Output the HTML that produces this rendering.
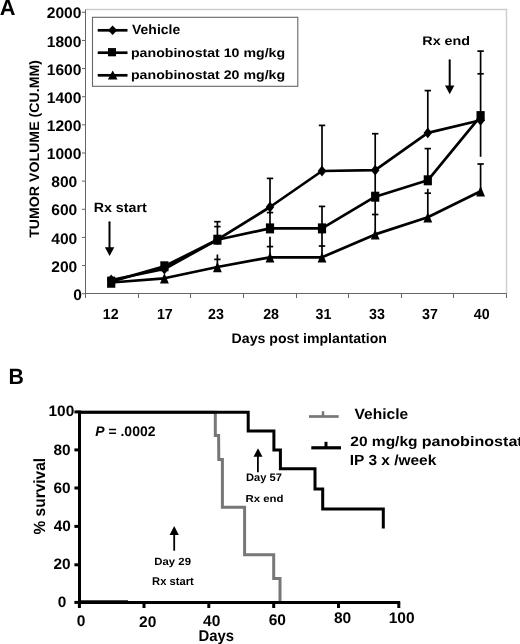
<!DOCTYPE html>
<html><head><meta charset="utf-8">
<style>
html,body{margin:0;padding:0;background:#fff;}
body{width:520px;height:644px;overflow:hidden;}
svg{display:block;filter:grayscale(1) blur(0.3px);}
text{font-family:"Liberation Sans",sans-serif;font-weight:bold;fill:#000;text-rendering:geometricPrecision;}
</style></head>
<body>
<svg width="520" height="644" viewBox="0 0 520 644">
<rect x="0" y="0" width="520" height="644" fill="#fff"/>
<text x="-0.34" y="14.6" font-size="21.79">A</text>
<path d="M85.5 9.5 H506.5 V293.5" fill="none" stroke="#cdcdcd" stroke-width="1.4"/>
<path d="M85.5 9.5 V293.5 H506.5" fill="none" stroke="#666" stroke-width="1"/>
<path d="M82 293.7 H85.5" stroke="#666" stroke-width="1"/>
<text transform="translate(73.26,299.78) scale(1.0200,1)" font-size="15.300">0</text>
<path d="M82 265.56 H85.5" stroke="#666" stroke-width="1"/>
<text transform="translate(51.26,271.64) scale(1.0200,1)" font-size="15.300">200</text>
<path d="M82 237.42 H85.5" stroke="#666" stroke-width="1"/>
<text transform="translate(51.26,243.5) scale(1.0200,1)" font-size="15.300">400</text>
<path d="M82 209.29 H85.5" stroke="#666" stroke-width="1"/>
<text transform="translate(51.26,215.36) scale(1.0200,1)" font-size="15.300">600</text>
<path d="M82 181.15 H85.5" stroke="#666" stroke-width="1"/>
<text transform="translate(51.26,187.23) scale(1.0200,1)" font-size="15.300">800</text>
<path d="M82 153.01 H85.5" stroke="#666" stroke-width="1"/>
<text transform="translate(46.7,159.09) scale(1.0200,1)" font-size="15.300">1000</text>
<path d="M82 124.87 H85.5" stroke="#666" stroke-width="1"/>
<text transform="translate(46.7,130.95) scale(1.0200,1)" font-size="15.300">1200</text>
<path d="M82 96.73 H85.5" stroke="#666" stroke-width="1"/>
<text transform="translate(46.7,102.81) scale(1.0200,1)" font-size="15.300">1400</text>
<path d="M82 68.6 H85.5" stroke="#666" stroke-width="1"/>
<text transform="translate(46.7,74.67) scale(1.0200,1)" font-size="15.300">1600</text>
<path d="M82 40.46 H85.5" stroke="#666" stroke-width="1"/>
<text transform="translate(46.7,46.54) scale(1.0200,1)" font-size="15.300">1800</text>
<path d="M82 12.32 H85.5" stroke="#666" stroke-width="1"/>
<text transform="translate(46.7,18.4) scale(1.0200,1)" font-size="15.300">2000</text>
<path d="M85.5 293.5 V298" stroke="#666" stroke-width="1"/>
<path d="M138.5 293.5 V298" stroke="#666" stroke-width="1"/>
<path d="M190.5 293.5 V298" stroke="#666" stroke-width="1"/>
<path d="M243.5 293.5 V298" stroke="#666" stroke-width="1"/>
<path d="M296.5 293.5 V298" stroke="#666" stroke-width="1"/>
<path d="M348.5 293.5 V298" stroke="#666" stroke-width="1"/>
<path d="M401.5 293.5 V298" stroke="#666" stroke-width="1"/>
<path d="M453.5 293.5 V298" stroke="#666" stroke-width="1"/>
<path d="M506.5 293.5 V298" stroke="#666" stroke-width="1"/>
<text transform="translate(102.86,318.85) scale(0.9700,1)" font-size="14.700">12</text>
<text transform="translate(156.91,318.77) scale(0.9700,1)" font-size="14.700">17</text>
<text transform="translate(208.09,318.77) scale(0.9700,1)" font-size="14.700">23</text>
<text transform="translate(263.15,318.77) scale(0.9700,1)" font-size="14.700">28</text>
<text transform="translate(315.59,318.77) scale(0.9700,1)" font-size="14.700">31</text>
<text transform="translate(369.06,318.77) scale(0.9700,1)" font-size="14.700">33</text>
<text transform="translate(422.09,318.77) scale(0.9700,1)" font-size="14.700">37</text>
<text transform="translate(473.86,318.77) scale(0.9700,1)" font-size="14.700">40</text>
<text transform="translate(39.43,237.84) rotate(-90) scale(1.0348,1)" font-size="13.690">TUMOR VOLUME (CU.MM)</text>
<text transform="translate(231.58,343.2) scale(1.0247,1)" font-size="13.793">Days post implantation</text>
<rect x="92.5" y="17.3" width="205.3" height="69" fill="#fff" stroke="#666" stroke-width="1.1"/>
<text transform="translate(132.06,34.1) scale(1.0449,1)" font-size="13.379">Vehicle</text>
<text transform="translate(130.98,56.7) scale(1.1407,1)" font-size="12.414">panobinostat 10 mg/kg</text>
<text transform="translate(130.98,78.6) scale(1.1407,1)" font-size="12.414">panobinostat 20 mg/kg</text>
<path d="M97.7 30.3 H127.5" stroke="#000" stroke-width="2.7"/>
<g fill="#000"><path d="M112.6 25.5 L117.2 30.3 L112.6 35.1 L108 30.3 Z"/></g>
<path d="M97.7 52.7 H127.5" stroke="#000" stroke-width="2.7"/>
<g fill="#000"><rect x="108" y="48.1" width="8" height="8.2"/></g>
<path d="M97.7 75.3 H127.5" stroke="#000" stroke-width="2.7"/>
<g fill="#000"><path d="M112.7 70.4 L117.5 79.6 L107.9 79.6 Z"/></g>
<g stroke="#000" stroke-width="1.7" fill="none"><path d="M217.4 239.7 V221.7"/><path d="M217.4 267 V254.5"/><path d="M270 207 V178.4"/><path d="M270 207 V227.8"/><path d="M270 236.8 V257.3"/><path d="M322 171 V125.4"/><path d="M322 228.2 V206.4"/><path d="M322 228.2 V257.3"/><path d="M375.2 170.2 V133.7"/><path d="M375.2 170.2 V196.7"/><path d="M375.2 196.7 V234.4"/><path d="M427.8 132.9 V90.6"/><path d="M427.8 180.3 V148.6"/><path d="M427.8 188.8 V217.3"/><path d="M480.6 51.1 V156.8"/><path d="M480.6 164 V191.3"/><path d="M214.2 221.7 H220.6"/><path d="M214.2 226.6 H220.6"/><path d="M214.2 259.4 H220.6"/><path d="M266.8 178.4 H273.2"/><path d="M266.8 212.6 H273.2"/><path d="M266.8 246.6 H273.2"/><path d="M318.8 125.4 H325.2"/><path d="M318.8 206.4 H325.2"/><path d="M318.8 246 H325.2"/><path d="M372 133.7 H378.4"/><path d="M372 214.5 H378.4"/><path d="M424.6 90.6 H431"/><path d="M424.6 148.6 H431"/><path d="M424.6 193.2 H431"/><path d="M477.4 51.1 H483.8"/><path d="M477.4 73.8 H483.8"/><path d="M477.4 164 H483.8"/></g>
<polyline points="111.2,280 164.4,269 217.4,239.7 270,207 322,171 375.2,170.2 427.8,132.9 480.6,120.3" fill="none" stroke="#000" stroke-width="2.7" stroke-linejoin="round"/>
<g fill="#000"><path d="M111.2 274.6 L115.5 280 L111.2 285.4 L106.9 280 Z"/><path d="M164.4 263.6 L168.7 269 L164.4 274.4 L160.1 269 Z"/><path d="M217.4 234.3 L221.7 239.7 L217.4 245.1 L213.1 239.7 Z"/><path d="M270 201.6 L274.3 207 L270 212.4 L265.7 207 Z"/><path d="M322 165.6 L326.3 171 L322 176.4 L317.7 171 Z"/><path d="M375.2 164.8 L379.5 170.2 L375.2 175.6 L370.9 170.2 Z"/><path d="M427.8 127.5 L432.1 132.9 L427.8 138.3 L423.5 132.9 Z"/><path d="M480.6 114.9 L484.9 120.3 L480.6 125.7 L476.3 120.3 Z"/></g>
<polyline points="111.2,281.6 164.4,266.3 217.4,239.7 270,228.4 322,228.4 375.2,196.7 427.8,180.3 480.6,116.1" fill="none" stroke="#000" stroke-width="2.7" stroke-linejoin="round"/>
<g fill="#000"><rect x="107.1" y="276.6" width="8.2" height="10"/><rect x="160.3" y="261.3" width="8.2" height="10"/><rect x="213.3" y="234.7" width="8.2" height="10"/><rect x="265.9" y="223.4" width="8.2" height="10"/><rect x="317.9" y="223.4" width="8.2" height="10"/><rect x="371.1" y="191.7" width="8.2" height="10"/><rect x="423.7" y="175.3" width="8.2" height="10"/><rect x="476.5" y="111.1" width="8.2" height="10"/></g>
<polyline points="111.2,282.5 164.4,278.3 217.4,267 270,257.3 322,257.3 375.2,234.4 427.8,217.3 480.6,191.3" fill="none" stroke="#000" stroke-width="2.7" stroke-linejoin="round"/>
<g fill="#000"><path d="M111.2 277.3 L115.6 287.7 L106.8 287.7 Z"/><path d="M164.4 273.1 L168.8 283.5 L160 283.5 Z"/><path d="M217.4 261.8 L221.8 272.2 L213 272.2 Z"/><path d="M270 252.1 L274.4 262.5 L265.6 262.5 Z"/><path d="M322 252.1 L326.4 262.5 L317.6 262.5 Z"/><path d="M375.2 229.2 L379.6 239.6 L370.8 239.6 Z"/><path d="M427.8 212.1 L432.2 222.5 L423.4 222.5 Z"/><path d="M480.6 186.1 L485 196.5 L476.2 196.5 Z"/></g>
<text transform="translate(93.67,211.6) scale(1.0602,1)" font-size="13.431">Rx start</text>
<path d="M109.5 222.2 V248" stroke="#000" stroke-width="2" stroke-linecap="round"/>
<path d="M104.9 247.2 L114.3 247.2 L109.6 256 Z" fill="#000"/>
<text transform="translate(422.27,44.6) scale(1.1435,1)" font-size="12.552">Rx end</text>
<path d="M449.7 60.2 V86" stroke="#000" stroke-width="2" stroke-linecap="round"/>
<path d="M445 85.6 L454.4 85.6 L449.7 94.3 Z" fill="#000"/>
<text transform="translate(8.41,384) scale(0.9611,1)" font-size="22.174">B</text>
<polyline points="79.4,412.2 215.3,412.2 215.3,435.6 218.6,435.6 218.8,459.6 222.4,459.6 222.4,507.2 244.6,507.2 244.6,554.8 273.7,554.8 273.7,578.5 280,578.5 280,602.5" fill="none" stroke="#777" stroke-width="3" stroke-linejoin="miter"/>
<polyline points="79.4,412.2 248.2,412.2 248.2,431.1 273.9,431.1 273.9,450 280.4,450 280.4,468.7 315,468.7 315,489 322.7,489 322.7,509 383.3,509 383.3,528.5" fill="none" stroke="#000" stroke-width="3" stroke-linejoin="miter"/>
<path d="M79.5 410.6 V604.2" stroke="#000" stroke-width="3"/>
<path d="M78 602.6 H400.2" stroke="#000" stroke-width="3"/>
<rect x="80" y="600.3" width="48" height="1.3" fill="#000"/>
<path d="M74.4 411.9 H79.5" stroke="#000" stroke-width="3"/>
<text transform="translate(48.55,416.01) scale(1.0200,1)" font-size="15.100">100</text>
<path d="M74.4 449.9 H79.5" stroke="#000" stroke-width="3"/>
<text transform="translate(53.53,455.41) scale(1.0200,1)" font-size="15.100">80</text>
<path d="M74.4 488 H79.5" stroke="#000" stroke-width="3"/>
<text transform="translate(53.49,493.41) scale(1.0200,1)" font-size="15.100">60</text>
<path d="M74.4 526.4 H79.5" stroke="#000" stroke-width="3"/>
<text transform="translate(53.64,531.41) scale(1.0200,1)" font-size="15.100">40</text>
<path d="M74.4 564.8 H79.5" stroke="#000" stroke-width="3"/>
<text transform="translate(53.49,569.41) scale(1.0200,1)" font-size="15.100">20</text>
<path d="M74.4 602.4 H79.5" stroke="#000" stroke-width="3"/>
<text transform="translate(57.73,606.81) scale(1.0200,1)" font-size="15.100">0</text>
<path d="M79.4 602.6 V608" stroke="#000" stroke-width="3"/>
<path d="M144 602.6 V608" stroke="#000" stroke-width="3"/>
<path d="M208.8 602.6 V608" stroke="#000" stroke-width="3"/>
<path d="M273.7 602.6 V608" stroke="#000" stroke-width="3"/>
<path d="M338.5 602.6 V608" stroke="#000" stroke-width="3"/>
<path d="M398.8 602.6 V608" stroke="#000" stroke-width="3"/>
<text transform="translate(76.83,625.91) scale(1.0100,1)" font-size="15.400">0</text>
<text transform="translate(139.01,626.56) scale(1.0100,1)" font-size="15.400">20</text>
<text transform="translate(203.06,626.46) scale(1.0100,1)" font-size="15.400">40</text>
<text transform="translate(268.66,624.96) scale(1.0100,1)" font-size="15.400">60</text>
<text transform="translate(333.95,622.66) scale(1.0100,1)" font-size="15.400">80</text>
<text transform="translate(388.72,622.61) scale(1.0100,1)" font-size="15.400">100</text>
<text transform="translate(198.53,640.5) scale(0.9419,1)" font-size="15.797">Days</text>
<text transform="translate(44.74,534.49) rotate(-90) scale(0.9564,1)" font-size="16.190">% survival</text>
<text transform="translate(95.22,435.8) scale(1.0103,1)" font-size="13.857"><tspan font-style="italic">P</tspan> = .0002</text>
<path d="M309 416.5 H338.7" stroke="#777" stroke-width="2.7"/>
<path d="M323 411.3 V416.5" stroke="#777" stroke-width="2.5"/>
<text transform="translate(354.44,418.8) scale(1.0469,1)" font-size="14.897">Vehicle</text>
<path d="M311.3 447.8 H341" stroke="#000" stroke-width="3.2"/>
<path d="M326 441.8 V447.8" stroke="#000" stroke-width="3"/>
<text transform="translate(350.26,446.2) scale(1.1261,1)" font-size="13.793">20 mg/kg</text>
<text transform="translate(421.65,446.2) scale(1.1682,1)" font-size="13.793">panobinostat</text>
<text transform="translate(349.8,465.4) scale(1.0575,1)" font-size="14.621">IP 3 x /week</text>
<path d="M257.9 456 V472.3" stroke="#000" stroke-width="1.8"/>
<path d="M253.5 456.7 L262.5 456.7 L258 448.3 Z" fill="#000"/>
<text transform="translate(246.08,480.7) scale(1.0248,1)" font-size="10.870">Day 57</text>
<text transform="translate(245.46,501.5) scale(1.1188,1)" font-size="10.207">Rx end</text>
<path d="M174.2 534 V550.7" stroke="#000" stroke-width="1.8"/>
<path d="M169.6 534.9 L178.8 534.9 L174.2 526 Z" fill="#000"/>
<text transform="translate(154.36,564.5) scale(1.0746,1)" font-size="10.571">Day 29</text>
<text transform="translate(152.07,585.4) scale(0.9958,1)" font-size="11.241">Rx start</text>
</svg>
</body></html>
